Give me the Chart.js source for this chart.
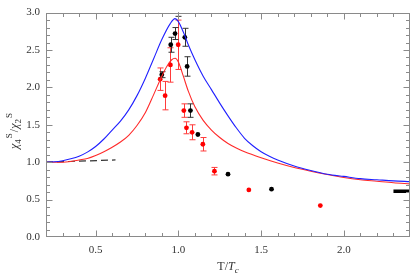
<!DOCTYPE html>
<html><head><meta charset="utf-8">
<script src="https://cdn.jsdelivr.net/npm/chart.js@4/dist/chart.umd.min.js"></script>
<style>html,body{margin:0;padding:0;background:#fff;}#wrap{width:417px;height:277px;}</style>
</head><body><div id="wrap"><canvas id="c"></canvas></div>
<script>
// ---- data ----
const blueT = [0.2,0.25,0.3,0.35,0.4,0.45,0.5,0.55,0.6,0.65,0.7,0.75,0.8,0.85,0.9,0.95,0.98,1.0,1.03,1.06,1.1,1.15,1.2,1.25,1.3,1.35,1.4,1.45,1.5,1.55,1.6,1.7,1.8,1.9,2.0,2.1,2.2,2.3,2.4];
const blueV = [1.0,1.005,1.02,1.045,1.08,1.135,1.21,1.31,1.43,1.55,1.70,1.89,2.12,2.38,2.64,2.85,2.92,2.88,2.74,2.57,2.37,2.15,1.97,1.79,1.62,1.46,1.32,1.22,1.14,1.08,1.03,0.95,0.89,0.84,0.81,0.78,0.765,0.75,0.74];
const redT = [0.2,0.3,0.35,0.4,0.45,0.5,0.55,0.6,0.65,0.7,0.75,0.8,0.85,0.9,0.93,0.96,0.98,1.0,1.03,1.06,1.1,1.15,1.2,1.25,1.3,1.35,1.4,1.5,1.6,1.7,1.8,1.9,2.0,2.1,2.2,2.3,2.4];
const redV = [1.0,1.0,1.01,1.03,1.05,1.09,1.14,1.2,1.27,1.36,1.49,1.66,1.90,2.15,2.28,2.37,2.39,2.34,2.15,1.95,1.74,1.56,1.43,1.33,1.25,1.19,1.14,1.06,0.99,0.93,0.88,0.835,0.795,0.765,0.745,0.725,0.71];
const dashT = [0.2,0.62];
const dashV = [1.0,1.03];
const limitT = [2.3,2.4];
const limitV = [0.61,0.61];
const blackT = [0.90,0.954,0.98,1.0,1.039,1.053,1.073,1.118,1.30,1.563];
const blackV = [2.17,2.57,2.72,3.05,2.67,2.28,1.69,1.37,0.84,0.64];
const blackErr = [0.04,0.10,0.08,0.10,0.12,0.13,0.09,0,0,0];
const redPtT = [0.89,0.92,0.952,0.999,1.033,1.049,1.083,1.148,1.218,1.426,1.858];
const redPtV = [2.11,1.89,2.30,2.57,1.69,1.46,1.40,1.24,0.88,0.63,0.42];
const redPtErr = [0.15,0.19,0.23,0.33,0.09,0.08,0.10,0.09,0.05,0,0];
const xTickLabels = ['0.5','1.0','1.5','2.0'];
const yTickLabels = ['0.0','0.5','1.0','1.5','2.0','2.5','3.0'];

const pts = (xs, ys) => xs.map((x, i) => ({x: x, y: ys[i]}));
const FRAME = '#8a8a8a';
const SERIF = '"Liberation Serif","DejaVu Serif",serif';

const errorBars = {
  id: 'errorBars',
  beforeDatasetDraw(chart, args) {
    const ds = chart.data.datasets[args.index];
    if (!ds.errors) return;
    const {ctx, chartArea: a, scales: {x, y}} = chart;
    ctx.save();
    ctx.beginPath(); ctx.rect(a.left, a.top, a.right - a.left, a.bottom - a.top); ctx.clip();
    ctx.strokeStyle = ds.errColor; ctx.lineWidth = 1;
    ds.data.forEach((p, i) => {
      const e = ds.errors[i];
      if (!e) return;
      const px = Math.round(x.getPixelForValue(p.x)) + 0.5;
      const y1 = y.getPixelForValue(p.y - e), y2 = y.getPixelForValue(p.y + e);
      ctx.beginPath();
      ctx.moveTo(px, y1); ctx.lineTo(px, y2);
      ctx.moveTo(px - 3, y1); ctx.lineTo(px + 3, y1);
      ctx.moveTo(px - 3, y2); ctx.lineTo(px + 3, y2);
      ctx.stroke();
    });
    ctx.restore();
  }
};

const frame = {
  id: 'frame',
  afterDraw(chart) {
    const {ctx, chartArea: a, scales: {x, y}} = chart;
    ctx.save();
    ctx.strokeStyle = FRAME; ctx.lineWidth = 1;
    const L = Math.round(a.left) + 0.5, R = Math.round(a.right) - 0.5, T = Math.round(a.top) + 0.5, B = Math.round(a.bottom) - 0.5;
    ctx.strokeRect(L, T, R - L, B - T);
    ctx.beginPath();
    x.ticks.forEach(t => {
      const major = t.label !== '';
      const len = major ? 6 : 3.5;
      const px = Math.round(x.getPixelForValue(t.value)) + 0.5;
      if (px < L + 1 || px > R - 1) return;
      ctx.moveTo(px, B); ctx.lineTo(px, B - len);
      ctx.moveTo(px, T); ctx.lineTo(px, T + len);
    });
    y.ticks.forEach(t => {
      const major = t.label !== '';
      const len = major ? 6 : 3.5;
      const py = Math.round(y.getPixelForValue(t.value)) + 0.5;
      if (py < T + 1 || py > B - 1) return;
      ctx.moveTo(L, py); ctx.lineTo(L + len, py);
      ctx.moveTo(R, py); ctx.lineTo(R - len, py);
    });
    ctx.stroke();

    // axis titles
    ctx.fillStyle = '#333';
    ctx.textBaseline = 'alphabetic';
    // x title: T/T_c
    const cx = (a.left + a.right) / 2, by = 270;
    const parts = [
      {t: 'T/', f: '12px ' + SERIF, dy: 0},
      {t: 'T', f: 'italic 12px ' + SERIF, dy: 0},
      {t: 'c', f: 'italic 9px ' + SERIF, dy: 3}
    ];
    let w = 0;
    parts.forEach(p => { ctx.font = p.f; p.w = ctx.measureText(p.t).width; w += p.w; });
    let xx = cx - w / 2;
    parts.forEach(p => { ctx.font = p.f; ctx.textAlign = 'left'; ctx.fillText(p.t, xx, by + p.dy); xx += p.w; });

    // y title: χ4^S/χ2^S
    ctx.translate(14, 131);
    ctx.rotate(-Math.PI / 2);
    const yp = [
      {t: 'χ', f: 'italic 12px ' + SERIF, dy: 0},
      {t: '4', f: '9px ' + SERIF, dy: 3},
      {t: 'S', f: '9px ' + SERIF, dy: -6, gap: 1},
      {t: '/', f: '12px ' + SERIF, dy: 0, gap: 1},
      {t: 'χ', f: 'italic 12px ' + SERIF, dy: 0},
      {t: '2', f: '9px ' + SERIF, dy: 3},
      {t: 'S', f: '9px ' + SERIF, dy: -6, gap: 1}
    ];
    w = 0;
    yp.forEach(p => { ctx.font = p.f; p.w = ctx.measureText(p.t).width + (p.gap || 0); w += p.w; });
    xx = -w / 2;
    yp.forEach(p => { ctx.font = p.f; ctx.textAlign = 'left'; ctx.fillText(p.t, xx + (p.gap || 0), 4 + p.dy); xx += p.w; });
    ctx.restore();
  }
};

const hiddenGrid = {display: true, drawOnChartArea: false, drawTicks: false, tickLength: 0, lineWidth: 0, color: 'rgba(0,0,0,0)'};

new Chart(document.getElementById('c'), {
  type: 'scatter',
  data: {
    datasets: [
      {data: pts(blueT, blueV), showLine: true, borderColor: '#2020ff', borderWidth: 1.1, pointRadius: 0, cubicInterpolationMode: 'monotone'},
      {data: pts(redT, redV), showLine: true, borderColor: '#ff2a2a', borderWidth: 1.1, pointRadius: 0, cubicInterpolationMode: 'monotone'},
      {data: pts(dashT, dashV), showLine: true, borderColor: '#333', borderWidth: 1.2, borderDash: [7, 4], pointRadius: 0},
      {data: pts(limitT, limitV), showLine: true, borderColor: '#000', borderWidth: 3.5, pointRadius: 0},
      {data: pts(blackT, blackV), errors: blackErr, errColor: '#333', pointRadius: 2.4, pointBackgroundColor: '#000', pointBorderWidth: 0, showLine: false},
      {data: pts(redPtT, redPtV), errors: redPtErr, errColor: '#ff3b3b', pointRadius: 2.4, pointBackgroundColor: '#ff0000', pointBorderWidth: 0, showLine: false}
    ]
  },
  options: {
    responsive: true, maintainAspectRatio: false, animation: false,
    layout: {padding: {top: 8, right: 1, left: 0, bottom: 0}},
    plugins: {legend: {display: false}, tooltip: {enabled: false}},
    scales: {
      x: {
        type: 'linear', min: 0.2, max: 2.4,
        afterFit: s => { s.height = 40; },
        border: {display: false},
        grid: hiddenGrid,
        ticks: {stepSize: 0.1, autoSkip: false, maxRotation: 0, padding: 7, color: '#333', font: {family: SERIF, size: 11},
          callback: v => { const s = v.toFixed(1); return xTickLabels.includes(s) ? s : ''; }}
      },
      y: {
        type: 'linear', min: 0, max: 3,
        afterFit: s => { s.width = 46; },
        border: {display: false},
        grid: hiddenGrid,
        ticks: {stepSize: 0.1, autoSkip: false, padding: 6, color: '#333', font: {family: SERIF, size: 11},
          callback: v => { const s = v.toFixed(1); return yTickLabels.includes(s) ? s : ''; }}
      }
    }
  },
  plugins: [errorBars, frame]
});
</script>
</body></html>
